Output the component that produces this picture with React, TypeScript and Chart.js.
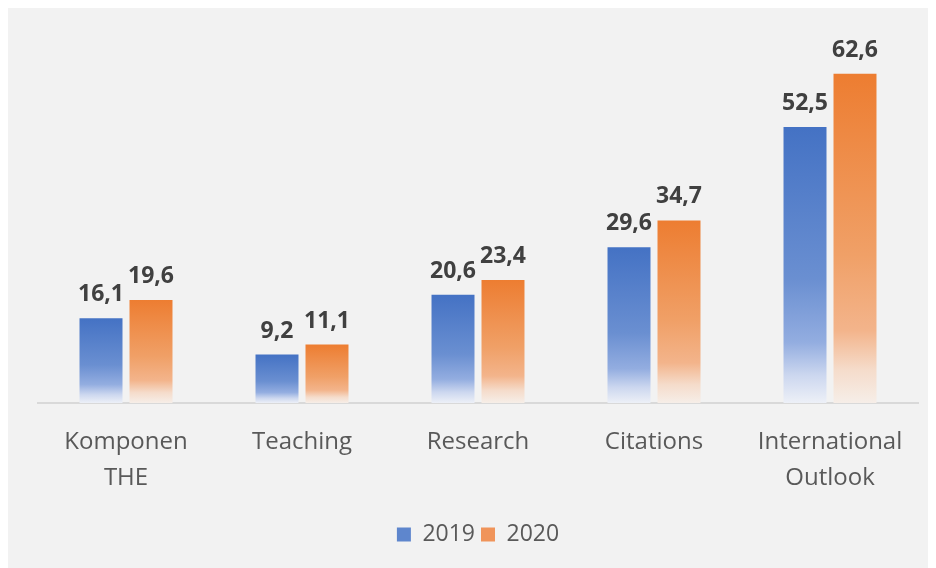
import React, { useEffect, useRef } from "react";
import { Chart, registerables } from "chart.js";

Chart.register(...registerables);

const categories: (string | string[])[] = [
  ["Komponen", "THE"],
  "Teaching",
  "Research",
  "Citations",
  ["International", "Outlook"],
];
const series2019: number[] = [16.1, 9.2, 20.6, 29.6, 52.5];
const series2020: number[] = [19.6, 11.1, 23.4, 34.7, 62.6];
const seriesNames: string[] = ["2019", "2020"];
const legendColors: string[] = ["#5e86cd", "#f0945a"];

const FONT = "'Open Sans', 'DejaVu Sans', sans-serif";

function gradientFill(stops: [number, string][], solid: string) {
  return (ctx: any) => {
    const chart = ctx.chart;
    if (ctx.type !== "data" || !chart.chartArea || !chart.scales.y) return solid;
    const y = chart.scales.y;
    const top = y.getPixelForValue(ctx.parsed.y);
    const base = y.getPixelForValue(0);
    if (!isFinite(top) || !isFinite(base) || top === base) return solid;
    const g = chart.ctx.createLinearGradient(0, top, 0, base);
    stops.forEach(([o, c]) => g.addColorStop(o, c));
    return g;
  };
}

const blueStops: [number, string][] = [
  [0, "#4472c4"],
  [0.55, "#6a8fd1"],
  [0.78, "#93ade0"],
  [0.9, "#ccd7ef"],
  [1, "#edf0f7"],
];
const orangeStops: [number, string][] = [
  [0, "#ed7d31"],
  [0.55, "#f0a067"],
  [0.78, "#f3b48b"],
  [0.9, "#f5dccb"],
  [1, "#f6eee8"],
];

const valueLabels = {
  id: "valueLabels",
  afterDatasetsDraw(chart: any) {
    const c = chart.ctx;
    c.save();
    c.font = `bold 23px ${FONT}`;
    c.fillStyle = "#404040";
    c.textAlign = "center";
    c.textBaseline = "alphabetic";
    chart.data.datasets.forEach((ds: any, di: number) => {
      const meta = chart.getDatasetMeta(di);
      meta.data.forEach((el: any, i: number) => {
        const v = ds.data[i] as number;
        c.fillText(v.toFixed(1).replace(".", ","), el.x, el.y - 17);
      });
    });
    c.restore();
  },
};

export default function App() {
  const ref = useRef<HTMLCanvasElement | null>(null);
  useEffect(() => {
    if (!ref.current) return;
    const chart = new Chart(ref.current, {
      type: "bar",
      data: {
        labels: categories,
        datasets: [
          {
            label: seriesNames[0],
            data: series2019,
            backgroundColor: gradientFill(blueStops, legendColors[0]),
            borderWidth: 0,
          },
          {
            label: seriesNames[1],
            data: series2020,
            backgroundColor: gradientFill(orangeStops, legendColors[1]),
            borderWidth: 0,
          },
        ],
      },
      options: {
        animation: false,
        responsive: true,
        maintainAspectRatio: false,
        layout: { padding: { top: 20, left: 30, right: 18, bottom: 12 } },
        datasets: {
          bar: { categoryPercentage: 0.568, barPercentage: 0.86 },
        },
        scales: {
          x: {
            grid: { display: false, drawTicks: false },
            border: { display: true, color: "#d9d9d9", width: 2 },
            ticks: {
              color: "#595959",
              padding: 21,
              font: { family: FONT, size: 24, lineHeight: 1.5 },
              maxRotation: 0,
              autoSkip: false,
            },
          },
          y: {
            display: false,
            min: 0,
            max: 71.3,
          },
        },
        plugins: {
          legend: {
            position: "bottom",
            labels: {
              boxWidth: 14,
              boxHeight: 14,
              padding: 6,
              color: "#595959",
              font: { family: FONT, size: 23 },
              generateLabels: (ch: any) =>
                ch.data.datasets.map((ds: any, i: number) => ({
                  text: ds.label,
                  fillStyle: legendColors[i],
                  strokeStyle: legendColors[i],
                  lineWidth: 0,
                  fontColor: "#595959",
                  hidden: !ch.isDatasetVisible(i),
                  datasetIndex: i,
                })),
            },
          },
          tooltip: { enabled: false },
        },
      },
      plugins: [valueLabels],
    });
    return () => chart.destroy();
  }, []);
  return (
    <div style={{ position: "relative", width: 928, height: 560, background: "#f2f2f2" }}>
      <canvas ref={ref} />
    </div>
  );
}
